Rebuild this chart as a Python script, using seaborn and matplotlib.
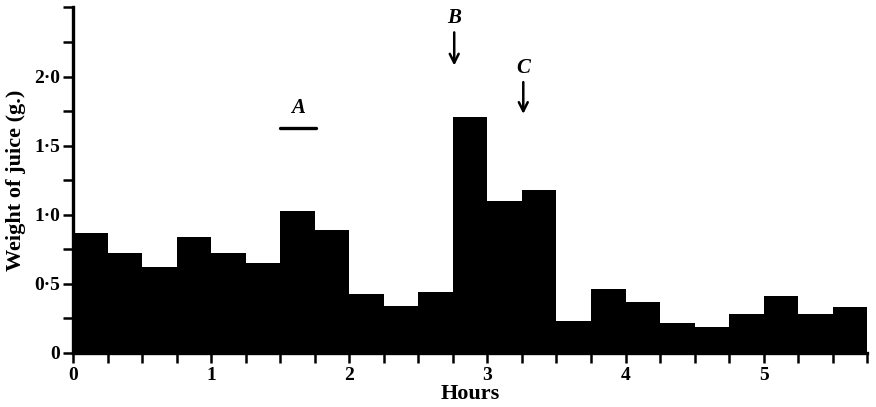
import matplotlib
matplotlib.use("Agg")
import matplotlib.pyplot as plt
import seaborn as sns
import numpy as np

# Data
hours = [0.0, 0.25, 0.5, 0.75, 1.0, 1.25, 1.5, 1.75, 2.0, 2.25, 2.5, 2.75,
         3.0, 3.25, 3.5, 3.75, 4.0, 4.25, 4.5, 4.75, 5.0, 5.25, 5.5]
juice = [0.87, 0.72, 0.62, 0.84, 0.72, 0.65, 1.03, 0.89, 0.43, 0.34, 0.44, 1.71,
         1.10, 1.18, 0.23, 0.46, 0.37, 0.22, 0.19, 0.28, 0.41, 0.28, 0.33]
bin_width = 0.25
x_major = [0, 1, 2, 3, 4, 5]
x_major_labels = ["0", "1", "2", "3", "4", "5"]
y_major = [0, 0.5, 1.0, 1.5, 2.0]
y_major_labels = ["0", "0\u00b75", "1\u00b70", "1\u00b75", "2\u00b70"]

sns.set_style("ticks")
plt.rcParams["font.family"] = ["Liberation Serif", "DejaVu Serif"]
plt.rcParams["font.weight"] = "bold"
plt.rcParams["text.color"] = "black"
plt.rcParams["axes.labelcolor"] = "black"
plt.rcParams["xtick.color"] = "black"
plt.rcParams["ytick.color"] = "black"

fig = plt.figure(figsize=(8.76, 4.07), dpi=100)
ax = fig.add_axes([0.0833, 0.1327, 0.9067, 0.8489])

centers = [h + bin_width / 2 for h in hours]
edges = hours + [hours[-1] + bin_width]
sns.histplot(x=centers, weights=juice, bins=edges, color="black", alpha=1,
             linewidth=0, element="bars", fill=True, ax=ax)

ax.set_xlim(0, 5.75)
ax.set_ylim(0, 2.5)
ax.set_xticks(x_major)
ax.set_xticklabels(x_major_labels, fontsize=14, fontweight="bold", color="black")
ax.set_xticks(edges, minor=True)
ax.set_yticks(y_major)
ax.set_yticklabels(y_major_labels, fontsize=14, fontweight="bold", color="black")
ax.set_yticks([0.25, 0.75, 1.25, 1.75, 2.25, 2.5], minor=True)
ax.tick_params(axis="both", which="both", direction="out", length=7, width=1.8,
               color="black", pad=2)
ax.tick_params(axis="x", which="major", pad=3)

for s in ["top", "right"]:
    ax.spines[s].set_visible(False)
for s in ["left", "bottom"]:
    ax.spines[s].set_linewidth(2.4)
    ax.spines[s].set_color("black")

ax.set_xlabel("Hours", fontsize=16, fontweight="bold", labelpad=0, color="black")
ax.set_ylabel("Weight of juice (g.)", fontsize=16, fontweight="bold", labelpad=6,
              color="black")

# Annotations
ax.plot([1.5, 1.76], [1.63, 1.63], color="black", lw=2.4, solid_capstyle="round")
ax.text(1.63, 1.70, "A", fontsize=15, fontweight="bold", style="italic",
        ha="center", va="bottom")
ax.annotate("", xy=(2.76, 2.06), xytext=(2.76, 2.34),
            arrowprops=dict(arrowstyle="->", lw=1.8, color="black", mutation_scale=16))
ax.text(2.76, 2.35, "B", fontsize=15, fontweight="bold", style="italic",
        ha="center", va="bottom")
ax.annotate("", xy=(3.26, 1.71), xytext=(3.26, 1.98),
            arrowprops=dict(arrowstyle="->", lw=1.8, color="black", mutation_scale=16))
ax.text(3.26, 1.99, "C", fontsize=15, fontweight="bold", style="italic",
        ha="center", va="bottom")

fig.savefig("out.png", dpi=100)
